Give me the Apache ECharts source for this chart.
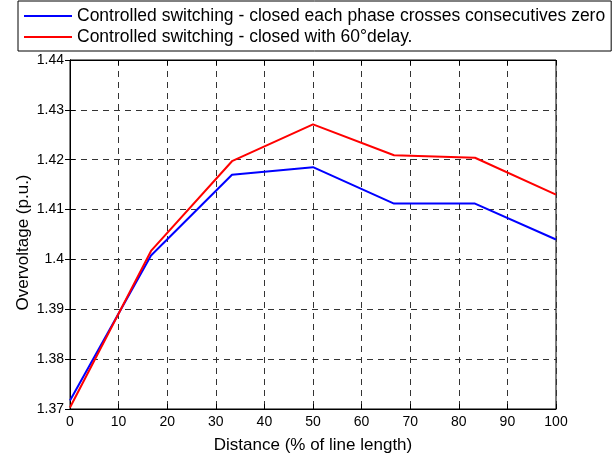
<!DOCTYPE html>
<html>
<head>
<meta charset="utf-8">
<script src="https://cdn.jsdelivr.net/npm/echarts@6/dist/echarts.min.js"></script>
<style>html,body{margin:0;padding:0;background:#fff}#c{width:612px;height:459px}</style>
</head>
<body>
<div id="c"></div>
<script>
var distance = [0, 16.67, 33.33, 50, 66.67, 83.33, 100];
var consecutiveZero = [1.3717, 1.4008, 1.4170, 1.4185, 1.4112, 1.4112, 1.4040];
var delay60 = [1.3703, 1.4017, 1.4197, 1.4271, 1.4209, 1.4204, 1.4130];
var seriesNames = ['Controlled switching - closed each phase crosses consecutives zero', 'Controlled switching - closed with 60\u00b0delay.'];
var xTitle = 'Distance (% of line length)';
var yTitle = 'Overvoltage (p.u.)';

function pairs(xs, ys){ return xs.map(function(x,i){ return [x, ys[i]]; }); }
var font = 'Liberation Sans, Arial, sans-serif';
var chart = echarts.init(document.getElementById('c'));
var grid = {left:70, right:56, top:60, bottom:49, show:true, borderColor:'#000', borderWidth:1, backgroundColor:'#fff'};
var splitStyle = {show:true, lineStyle:{color:'#333', type:[6,5], width:1}};
chart.setOption({
  animation:false,
  grid: grid,
  legend: {
    orient:'vertical', left:18, top:1,
    backgroundColor:'#fff', borderColor:'#000', borderWidth:1, borderRadius:0,
    padding:[6,6,5,6], itemGap:3, itemWidth:48, itemHeight:2,
    icon:'rect',
    textStyle:{fontFamily:font, fontSize:17.5, color:'#000'},
    data: seriesNames
  },
  xAxis: [{
    type:'value', min:0, max:100, interval:10,
    name:xTitle, nameLocation:'middle', nameGap:28,
    nameTextStyle:{fontFamily:font, fontSize:17, color:'#000'},
    axisLine:{show:true, lineStyle:{color:'#000'}},
    axisTick:{show:true, inside:true, length:5, lineStyle:{color:'#000'}},
    axisLabel:{fontFamily:font, fontSize:14, color:'#000', margin:6},
    splitLine:splitStyle
  },{
    type:'value', min:0, max:100, interval:10, position:'top',
    axisLine:{show:true, lineStyle:{color:'#000'}},
    axisTick:{show:true, inside:true, length:5, lineStyle:{color:'#000'}},
    axisLabel:{show:false}, splitLine:{show:false}
  }],
  yAxis: [{
    type:'value', min:1.37, max:1.44, interval:0.01,
    name:yTitle, nameLocation:'middle', nameGap:38, nameMoveOverlap:false,
    nameTextStyle:{fontFamily:font, fontSize:17, color:'#000', padding:[0,16,0,0]},
    axisLine:{show:true, lineStyle:{color:'#000'}},
    axisTick:{show:true, inside:true, length:5, lineStyle:{color:'#000'}},
    axisLabel:{fontFamily:font, fontSize:14, color:'#000', margin:6,
      formatter:function(v){ return String(Math.round(v*100)/100); }},
    splitLine:splitStyle
  },{
    type:'value', min:1.37, max:1.44, interval:0.01, position:'right',
    axisLine:{show:true, lineStyle:{color:'#000'}},
    axisTick:{show:true, inside:true, length:5, lineStyle:{color:'#000'}},
    axisLabel:{show:false}, splitLine:{show:false}
  }],
  series: [{
    name:seriesNames[0], type:'line', data:pairs(distance, consecutiveZero),
    symbol:'none', lineStyle:{color:'#0000ff', width:2}, itemStyle:{color:'#0000ff'}
  },{
    name:seriesNames[1], type:'line', data:pairs(distance, delay60),
    symbol:'none', lineStyle:{color:'#ff0000', width:2}, itemStyle:{color:'#ff0000'}
  }]
});
</script>
</body>
</html>
